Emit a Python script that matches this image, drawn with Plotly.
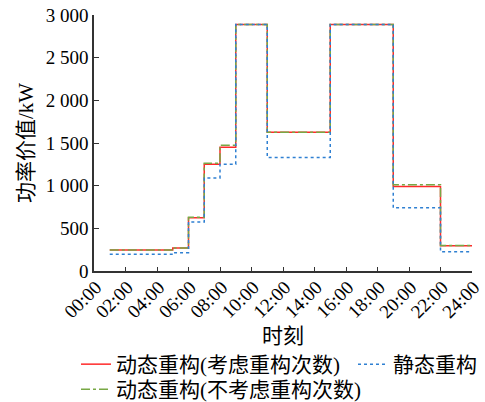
import plotly.graph_objects as go

hours = [1, 5, 6, 7, 8, 9, 11, 15, 19, 22, 24]
dyn_with = [245, 270, 625, 1250, 1450, 2890, 1625, 2890, 990, 295]
dyn_without = [245, 270, 630, 1262, 1475, 2890, 1625, 2890, 1012, 300]
static = [195, 215, 575, 1090, 1250, 2890, 1330, 2890, 740, 225]

tick_vals = list(range(0, 25, 2))
tick_text = [f"{h:02d}:00" for h in tick_vals]

names = ["动态重构(考虑重构次数)", "静态重构", "动态重构(不考虑重构次数)"]

def ext(v):
    return v + [v[-1]]

FONT = "Liberation Serif, Noto Sans CJK SC, serif"
W, H = 485, 402
L, R, T, B = 94, 13, 15, 131
PW, PH = W - L - R, H - T - B

def px(xp):
    return (xp - L) / PW

def py(yp):
    return (H - B - yp) / PH

fig = go.Figure()
fig.add_trace(go.Scatter(x=hours, y=ext(dyn_with), mode="lines", line_shape="hv",
                         name=names[0], legend="legend",
                         line=dict(color="#ff2a2a", width=1.5, dash="solid")))
fig.add_trace(go.Scatter(x=hours, y=ext(dyn_without), mode="lines", line_shape="hv",
                         name=names[2], legend="legend3",
                         line=dict(color="#78a845", width=1.5, dash="dashdot")))
fig.add_trace(go.Scatter(x=hours, y=ext(static), mode="lines", line_shape="hv",
                         name=names[1], legend="legend2",
                         line=dict(color="#2f80d2", width=1.5, dash="dot")))

leg_common = dict(orientation="v", xanchor="left", yanchor="top", font=dict(size=21),
                  itemwidth=30, bgcolor="rgba(0,0,0,0)")
fig.update_layout(
    width=W, height=H,
    margin=dict(l=L, r=R, t=T, b=B, autoexpand=False),
    paper_bgcolor="white", plot_bgcolor="white",
    font=dict(family=FONT, size=19, color="black"),
    separators=". ",
    showlegend=True,
    legend=dict(x=px(76), y=py(344), **leg_common),
    legend2=dict(x=px(353), y=py(344), **leg_common),
    legend3=dict(x=px(76), y=py(369), **leg_common),
)
fig.update_xaxes(range=[0, 24], tickvals=tick_vals, ticktext=tick_text, tickangle=-45,
                 ticks="inside", ticklen=4, tickcolor="#333", showline=True, linecolor="#333",
                 linewidth=1.5, showgrid=False, zeroline=False,
                 ticklabelshift=2, ticklabelstandoff=-4, ticklabeloverflow="allow",
                 title=dict(text="时刻", font=dict(size=21), standoff=7),
                 tickfont=dict(size=19))
fig.update_yaxes(range=[0, 3000], tickvals=list(range(0, 3001, 500)), tickformat=",d",
                 ticks="inside", ticklen=5, tickcolor="#333", showline=True, linecolor="#333",
                 linewidth=1.5, showgrid=False, zeroline=False,
                 title=dict(text="功率价值/kW", font=dict(size=21), standoff=6),
                 tickfont=dict(size=19))

fig.write_html("out.html", config={"displayModeBar": False},
               post_script="document.body.style.margin='0px';")
